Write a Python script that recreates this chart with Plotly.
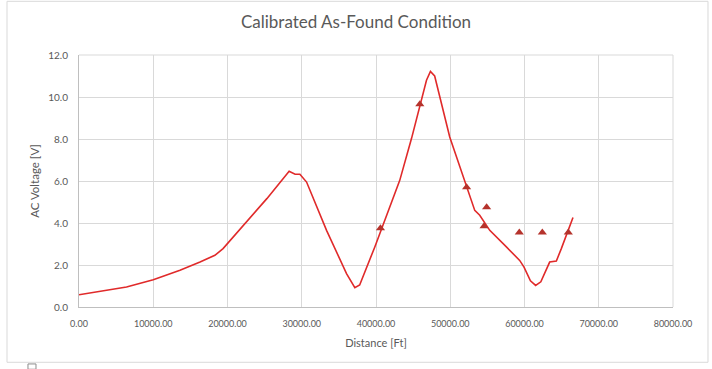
import plotly.graph_objects as go

# Measured curve (line)
line_dist = [0, 2800, 6400, 10000, 13600, 16300, 18300, 19400, 22100, 25300, 28300,
             29100, 29750, 30650, 33340, 36030, 37150, 37800, 39840, 40600, 43200,
             44780, 45900, 46800, 47330, 47900, 49930, 52180, 53300, 53970, 55320,
             57560, 59350, 59935, 60800, 61500, 62200, 63390, 64290, 64960, 66530]
line_volt = [0.58, 0.75, 0.95, 1.30, 1.75, 2.14, 2.46, 2.78, 3.89, 5.16, 6.46,
             6.32, 6.32, 5.95, 3.65, 1.59, 0.92, 1.05, 2.86, 3.60, 6.03,
             8.02, 9.60, 10.80, 11.22, 11.00, 8.10, 5.71, 4.60, 4.37, 3.65,
             2.86, 2.22, 1.90, 1.25, 1.03, 1.20, 2.14, 2.19, 2.78, 4.26]

# As-found points (triangles)
pt_dist = [40600, 45900, 52200, 54550, 54900, 59300, 62400, 65900]
pt_volt = [3.75, 9.65, 5.70, 3.85, 4.75, 3.55, 3.55, 3.55]

x_ticks = [0, 10000, 20000, 30000, 40000, 50000, 60000, 70000, 80000]
y_ticks = [0, 2, 4, 6, 8, 10, 12]

grey = "#595959"

fig = go.Figure()
fig.add_trace(go.Scatter(x=line_dist, y=line_volt, mode="lines",
                         line=dict(color="#e02a2a", width=1.6), showlegend=False))
fig.add_trace(go.Scatter(x=pt_dist, y=pt_volt, mode="markers",
                         marker=dict(symbol="triangle-up", size=8, color="#b5332c"),
                         showlegend=False))

fig.update_layout(
    width=712, height=369,
    margin=dict(l=79, r=39, t=55, b=62),
    paper_bgcolor="white", plot_bgcolor="white",
    font=dict(family="Lato, Open Sans, sans-serif", color=grey),
    title=dict(text="Calibrated As-Found Condition", x=0.5, xanchor="center",
               y=0.94, yanchor="middle", font=dict(size=17, color=grey)),
    xaxis=dict(range=[0, 80000], tickvals=x_ticks, tickformat=".2f",
               showgrid=True, gridcolor="#d9d9d9", gridwidth=1,
               zeroline=False, showline=True, linecolor="#bfbfbf",
               ticks="", tickfont=dict(size=9, color=grey), ticklabelstandoff=8,
               title=dict(text="Distance [Ft]", font=dict(size=11, color=grey), standoff=11)),
    yaxis=dict(range=[0, 12], tickvals=y_ticks, tickformat=".1f",
               showgrid=True, gridcolor="#d9d9d9", gridwidth=1,
               zeroline=False, showline=True, linecolor="#bfbfbf",
               ticks="", tickfont=dict(size=10, color=grey), ticklabelstandoff=8,
               title=dict(text="AC Voltage [V]", font=dict(size=11.5, color=grey), standoff=6)),
    shapes=[
        dict(type="rect", xref="paper", yref="paper", x0=-0.1212, x1=1.0589,
             y0=-0.2194, y1=1.2131, line=dict(color="#d9d9d9", width=1), layer="below"),
        dict(type="line", xref="paper", yref="paper", x0=1, x1=1, y0=0, y1=1,
             line=dict(color="#d9d9d9", width=1)),
        dict(type="line", xref="paper", yref="paper", x0=0, x1=1, y0=1, y1=1,
             line=dict(color="#d9d9d9", width=1)),
        dict(type="rect", xref="paper", yref="paper", x0=-0.0859, x1=-0.0724,
             y0=-0.247, y1=-0.226, line=dict(color="#8c8c8c", width=1)),
    ],
)

fig.write_html("out.html", config={"displayModeBar": False},
               post_script="document.body.style.margin='0';")
